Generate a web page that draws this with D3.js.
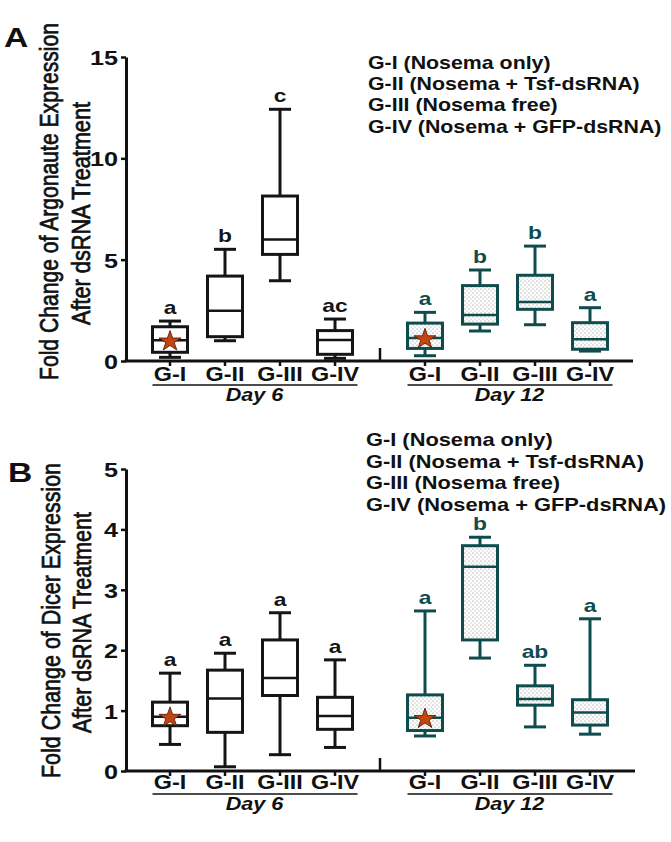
<!DOCTYPE html>
<html><head><meta charset="utf-8">
<script src="https://cdn.jsdelivr.net/npm/d3@7"></script>
<style>html,body{margin:0;padding:0;background:#fff;}svg{display:block;}</style>
</head><body>
<script>
// ---------------- DATA ----------------
const groups = ["G-I", "G-II", "G-III", "G-IV"];
const days = ["Day 6", "Day 12"];
const legendLabels = ["G-I (Nosema only)", "G-II (Nosema + Tsf-dsRNA)", "G-III (Nosema free)", "G-IV (Nosema + GFP-dsRNA)"];
// box stats: [whisker low, Q1, median, Q3, whisker high]
const argonauteDay6 = [[0.18, 0.43, 1.02, 1.69, 1.97], [1.0, 1.2, 2.48, 4.19, 5.51], [3.96, 5.26, 6.0, 8.14, 12.42], [0.13, 0.33, 1.04, 1.5, 2.07]];
const argonauteDay12 = [[0.26, 0.62, 1.13, 1.87, 2.4], [1.48, 1.82, 2.27, 3.72, 4.49], [1.79, 2.55, 2.91, 4.23, 5.67], [0.49, 0.58, 1.07, 1.89, 2.63]];
const argonauteLettersDay6 = ["a", "b", "c", "ac"];
const argonauteLettersDay12 = ["a", "b", "b", "a"];
const dicerDay6 = [[0.44, 0.75, 0.9, 1.14, 1.62], [0.07, 0.64, 1.2, 1.67, 1.95], [0.27, 1.25, 1.54, 2.17, 2.62], [0.39, 0.69, 0.91, 1.22, 1.84]];
const dicerDay12 = [[0.58, 0.67, 0.88, 1.26, 2.65], [1.87, 2.17, 3.38, 3.73, 3.87], [0.73, 1.09, 1.19, 1.41, 1.75], [0.61, 0.76, 0.97, 1.18, 2.52]];
const dicerLettersDay6 = ["a", "a", "a", "a"];
const dicerLettersDay12 = ["a", "b", "ab", "a"];
const argonauteTicks = [0, 5, 10, 15];
const dicerTicks = [0, 1, 2, 3, 4, 5];
const starGroup = "G-I"; // star marks the median of G-I

// ---------------- LAYOUT ----------------
const W = 671, H = 842;
const FONT = "'Liberation Sans', Arial, Helvetica, sans-serif";
const STRETCH = 1.2;
const BLACK = "#151515", TEAL = "#0f4c4d", STAR = "#c5440f";

const svg = d3.select("body").append("svg").attr("width", W).attr("height", H)
  .style("background", "#fff");

const defs = svg.append("defs");
const pat = defs.append("pattern").attr("id", "stipple").attr("patternUnits", "userSpaceOnUse")
  .attr("width", 4).attr("height", 4);
pat.append("rect").attr("width", 4).attr("height", 4).attr("fill", "#fff");
pat.append("rect").attr("x", 0.5).attr("y", 0.5).attr("width", 1.1).attr("height", 1.1).attr("fill", "#9a9a9a");
pat.append("rect").attr("x", 2.5).attr("y", 2.5).attr("width", 1.1).attr("height", 1.1).attr("fill", "#b5b5b5");

function stretch(sel, f) {
  sel.each(function () {
    const L = this.getComputedTextLength();
    d3.select(this).attr("textLength", L * (f || STRETCH)).attr("lengthAdjust", "spacingAndGlyphs");
  });
}

const dayX = d3.scalePoint().domain(days).range([252.5, 507.5]);
const grpX = d3.scalePoint().domain(groups).range([-82.5, 82.5]);
const xPos = (day, g) => dayX(day) + grpX(g);
const axisX = 126;
const boxW = 35, capW = 22;

function drawPanel(cfg) {
  const g = svg.append("g");
  const y = d3.scaleLinear().domain([0, cfg.yMax]).range([cfg.y0, cfg.yTop]);

  // panel letter
  g.append("text").attr("x", cfg.letterX).attr("y", cfg.letterY).text(cfg.letter)
    .attr("font-family", FONT).attr("font-weight", "bold").attr("font-size", 28).attr("fill", "#111")
    .call(stretch);

  // y title (two lines, rotated)
  cfg.titles.forEach((t) => {
    g.append("text")
      .attr("transform", `translate(${t.x},${t.cy}) scale(${STRETCH},1) rotate(-90)`)
      .attr("text-anchor", "middle").attr("font-family", FONT).attr("font-size", 21)
      .attr("fill", "#111").attr("stroke", "#111").attr("stroke-width", 0.6)
      .attr("textLength", t.len).attr("lengthAdjust", "spacingAndGlyphs")
      .text(t.text);
  });

  // y axis
  const ya = g.append("g").attr("transform", `translate(${axisX},0)`)
    .call(d3.axisLeft(y).tickValues(cfg.ticks).tickSize(5).tickSizeOuter(0).tickPadding(3).tickFormat(d3.format("d")));
  ya.select(".domain").attr("stroke", "#111").attr("stroke-width", 3);
  ya.selectAll(".tick line").attr("stroke", "#111").attr("stroke-width", 2.5);
  ya.selectAll(".tick text").attr("font-family", FONT).attr("font-weight", "bold").attr("font-size", 21)
    .attr("fill", "#111").attr("dy", "0.36em").call(stretch);

  // x axis baseline
  g.append("line").attr("x1", axisX - 1.5).attr("x2", cfg.xEnd).attr("y1", y(0)).attr("y2", y(0))
    .attr("stroke", "#111").attr("stroke-width", 3);
  // break marker between days
  const bx = (xPos("Day 6", "G-IV") + xPos("Day 12", "G-I")) / 2;
  g.append("line").attr("x1", bx).attr("x2", bx).attr("y1", y(0)).attr("y2", y(0) - 13)
    .attr("stroke", "#111").attr("stroke-width", 2.5);

  days.forEach((day, di) => {
    const data = di === 0 ? cfg.day6 : cfg.day12;
    const letters = di === 0 ? cfg.letters6 : cfg.letters12;
    const col = di === 0 ? BLACK : TEAL;
    const fill = di === 0 ? "#fff" : "url(#stipple)";

    // ticks + group labels
    groups.forEach((grp) => {
      const cx = xPos(day, grp);
      g.append("line").attr("x1", cx).attr("x2", cx).attr("y1", y(0)).attr("y2", y(0) + 5)
        .attr("stroke", "#111").attr("stroke-width", 2.5);
      g.append("text").attr("x", cx).attr("y", y(0) + cfg.lblDy).attr("text-anchor", "middle")
        .attr("font-family", FONT).attr("font-weight", "bold").attr("font-size", 19.5).attr("fill", "#111")
        .text(grp).call(stretch);
    });
    // underline + day label
    g.append("line").attr("x1", dayX(day) - 100).attr("x2", dayX(day) + 105)
      .attr("y1", y(0) + cfg.ulDy).attr("y2", y(0) + cfg.ulDy).attr("stroke", "#111").attr("stroke-width", 1.5);
    g.append("text").attr("x", dayX(day) + 2).attr("y", y(0) + cfg.dayDy).attr("text-anchor", "middle")
      .attr("font-family", FONT).attr("font-weight", "bold").attr("font-style", "italic").attr("font-size", 18)
      .attr("fill", "#111").text(day).call(stretch);

    // boxes
    const bg = g.append("g");
    const box = bg.selectAll("g.box").data(data.map((d, i) => ({ s: d, grp: groups[i], letter: letters[i] })))
      .join("g").attr("class", "box");
    box.append("line").attr("x1", d => xPos(day, d.grp)).attr("x2", d => xPos(day, d.grp))
      .attr("y1", d => y(d.s[0])).attr("y2", d => y(d.s[4])).attr("stroke", col).attr("stroke-width", 3);
    box.append("line").attr("x1", d => xPos(day, d.grp) - capW / 2).attr("x2", d => xPos(day, d.grp) + capW / 2)
      .attr("y1", d => y(d.s[0])).attr("y2", d => y(d.s[0])).attr("stroke", col).attr("stroke-width", 3);
    box.append("line").attr("x1", d => xPos(day, d.grp) - capW / 2).attr("x2", d => xPos(day, d.grp) + capW / 2)
      .attr("y1", d => y(d.s[4])).attr("y2", d => y(d.s[4])).attr("stroke", col).attr("stroke-width", 3);
    box.append("rect").attr("x", d => xPos(day, d.grp) - boxW / 2).attr("width", boxW)
      .attr("y", d => y(d.s[3])).attr("height", d => y(d.s[1]) - y(d.s[3]))
      .attr("fill", fill).attr("stroke", col).attr("stroke-width", 3);
    box.append("line").attr("x1", d => xPos(day, d.grp) - boxW / 2).attr("x2", d => xPos(day, d.grp) + boxW / 2)
      .attr("y1", d => y(d.s[2])).attr("y2", d => y(d.s[2])).attr("stroke", col).attr("stroke-width", 2.5);
    // significance letters
    box.append("text").attr("x", d => xPos(day, d.grp)).attr("y", d => y(d.s[4]) - 7)
      .attr("text-anchor", "middle").attr("font-family", FONT).attr("font-weight", "bold").attr("font-size", 19)
      .attr("fill", col).text(d => d.letter).call(stretch);
    // star on G-I median
    box.filter(d => d.grp === starGroup).append("path")
      .attr("d", d3.symbol(d3.symbolStar).size(130))
      .attr("transform", d => `translate(${xPos(day, d.grp)},${y(d.s[2]) + 1}) scale(1.08,1)`)
      .attr("fill", STAR).attr("stroke", "#4a1a06").attr("stroke-width", 0.8);
  });

  // legend
  const lg = g.append("g");
  legendLabels.forEach((t, i) => {
    lg.append("text").attr("x", cfg.legX).attr("y", cfg.legY + i * cfg.legStep)
      .attr("font-family", FONT).attr("font-weight", "bold").attr("font-size", cfg.legFont)
      .attr("fill", "#111").text(t).call(stretch);
  });
}

drawPanel({
  letter: "A", letterX: 4, letterY: 47,
  yMax: 15, y0: 361, yTop: 57, ticks: argonauteTicks, xEnd: 633,
  day6: argonauteDay6, day12: argonauteDay12, letters6: argonauteLettersDay6, letters12: argonauteLettersDay12,
  titles: [{ text: "Fold Change of Argonaute Expression", x: 58, cy: 201.5, len: 357 },
           { text: "After dsRNA Treatment", x: 90, cy: 213.5, len: 223 }],
  lblDy: 20, ulDy: 24, dayDy: 40,
  legX: 368, legY: 69, legStep: 21.2, legFont: 17.8
});

drawPanel({
  letter: "B", letterX: 8, letterY: 482,
  yMax: 5, y0: 771, yTop: 469, ticks: dicerTicks, xEnd: 635,
  day6: dicerDay6, day12: dicerDay12, letters6: dicerLettersDay6, letters12: dicerLettersDay12,
  titles: [{ text: "Fold Change of Dicer Expression", x: 60, cy: 620.5, len: 315 },
           { text: "After dsRNA Treatment", x: 91, cy: 622.5, len: 221 }],
  lblDy: 18, ulDy: 23, dayDy: 39,
  legX: 366, legY: 446, legStep: 21.5, legFont: 18.2
});
</script>
</body></html>
